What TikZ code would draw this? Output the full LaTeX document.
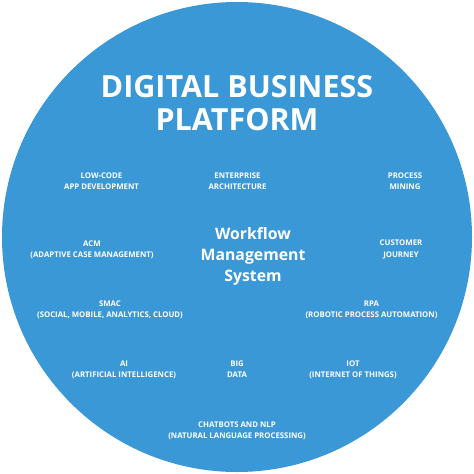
\documentclass[tikz,border=0pt]{standalone}
\usepackage{fontspec}
\setmainfont{Open Sans}
\definecolor{discblue}{RGB}{59,152,214}
\begin{document}
\begin{tikzpicture}[x=1pt,y=-1pt,
  lbl/.style={text=white,font=\fontsize{7.8}{11.2}\selectfont\bfseries,align=center,inner sep=0pt},
  ttl/.style={text=white,font=\fontsize{30.5}{33}\selectfont\bfseries,align=center,inner sep=0pt},
  mid/.style={text=white,font=\fontsize{15.8}{21}\selectfont\bfseries,align=center,inner sep=0pt}]
\useasboundingbox (0,0) rectangle (474,474);
\fill[white] (0,0) rectangle (474,474);
\fill[discblue] (237,237) circle (235);
\node[ttl] (title) at (237,103.5) {DIGITAL BUSINESS\\PLATFORM};
\node[mid] (wms) at (253,256) {Workflow\\Management\\System};
\node[lbl] (lowcode) at (101.5,181.5) {LOW-CODE\\APP DEVELOPMENT};
\node[lbl] (ea) at (237.5,181.5) {ENTERPRISE\\ARCHITECTURE};
\node[lbl] (pm) at (405,181.5) {PROCESS\\MINING};
\node[lbl] (acm) at (92,249.5) {ACM\\(ADAPTIVE CASE MANAGEMENT)};
\node[lbl] (cj) at (401,249.5) {CUSTOMER\\JOURNEY};
\node[lbl] (smac) at (110,309.5) {SMAC\\(SOCIAL, MOBILE, ANALYTICS, CLOUD)};
\node[lbl] (rpa) at (371.5,309.5) {RPA\\(ROBOTIC PROCESS AUTOMATION)};
\node[lbl] (ai) at (124,369.5) {AI\\(ARTIFICIAL INTELLIGENCE)};
\node[lbl] (bd) at (237,369.5) {BIG\\DATA};
\node[lbl] (iot) at (353,369.5) {IOT\\(INTERNET OF THINGS)};
\node[lbl] (nlp) at (237,431) {CHATBOTS AND NLP\\(NATURAL LANGUAGE PROCESSING)};
\end{tikzpicture}
\end{document}
